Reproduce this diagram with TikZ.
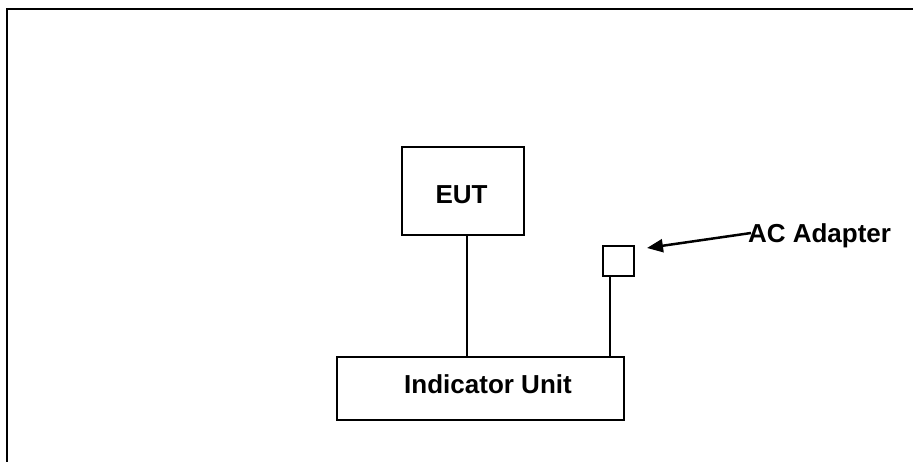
\documentclass[tikz,border=0pt]{standalone}
\usepackage{fontspec}
\setmainfont{Liberation Sans}
\usetikzlibrary{arrows.meta}

\begin{document}
\begin{tikzpicture}[x=1pt, y=-1pt, line width=2pt,
    box/.style={draw, rectangle, inner sep=0pt},
    lbl/.style={font=\fontsize{26}{30}\selectfont\bfseries, inner sep=0pt, anchor=base},
    ar/.style={-{Triangle[length=16pt,width=13pt]}}]
    \useasboundingbox (0,0) rectangle (913,461);

    % ---------- frame ----------
    \draw (7,462) -- (7,9) -- (914,9);

    % ---------- units ----------
    \node[box, minimum width=122pt, minimum height=88pt] (eut) at (463,191) {};
    \node[box, minimum width=287pt, minimum height=63pt] (ind) at (480.5,388.5) {};
    \node[box, minimum width=31pt, minimum height=30pt] (adp) at (618.5,261) {};

    % ---------- texts ----------
    \node[lbl] (eutl) at (461.5,203) {EUT};
    \node[lbl] (indl) at (488,393) {Indicator Unit};
    \node[lbl, anchor=base west] (adpl) at (747,242) {AC Adapter};

    % ---------- cables ----------
    \draw ([xshift=4pt]eut.south) -- ([xshift=4pt]eut.south |- ind.north);
    \draw ([xshift=-8.5pt]adp.south) -- ([xshift=-8.5pt]adp.south |- ind.north);

    % ---------- pointer ----------
    \coordinate (tip) at (647,248);
    \draw[ar, line width=2.5pt] ([xshift=4pt,yshift=9pt]adpl.base west) -- (tip);

\end{tikzpicture}
\end{document}
